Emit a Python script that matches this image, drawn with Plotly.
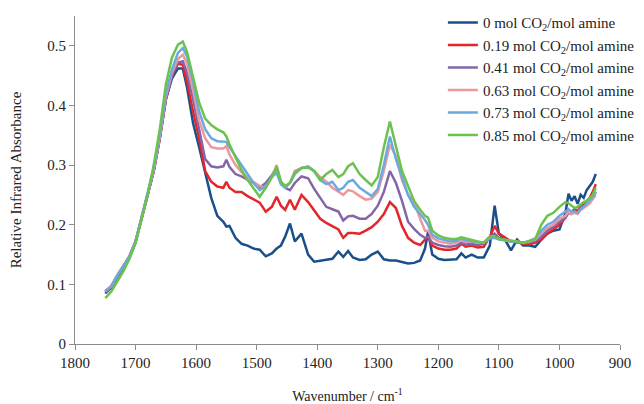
import plotly.graph_objects as go

wavenumber = [1750, 1740, 1730, 1720, 1710, 1700, 1690, 1680, 1670, 1660, 1650, 1640, 1630, 1622, 1615,
              1605, 1595, 1585, 1575, 1565, 1555, 1550, 1545, 1535, 1525, 1515, 1505, 1495, 1485, 1475,
              1467, 1460, 1453, 1445, 1437, 1426, 1415, 1405, 1395, 1385, 1375, 1365, 1357, 1349, 1341,
              1330, 1320, 1310, 1300, 1290, 1280, 1270, 1260, 1250, 1240, 1230, 1222, 1217, 1210, 1200,
              1190, 1180, 1170, 1162, 1155, 1145, 1135, 1125, 1115, 1107, 1100, 1090, 1080, 1070, 1060,
              1050, 1040, 1030, 1020, 1010, 1000, 990, 985, 980, 975, 970, 965, 960, 955, 950, 945, 940]

abs_0 = [0.085, 0.095, 0.112, 0.128, 0.145, 0.170, 0.212, 0.250, 0.290, 0.345, 0.410, 0.445, 0.462, 0.462, 0.430,
         0.370, 0.330, 0.290, 0.245, 0.215, 0.205, 0.197, 0.198, 0.178, 0.168, 0.165, 0.160, 0.158, 0.147, 0.152,
         0.160, 0.165, 0.180, 0.202, 0.172, 0.185, 0.150, 0.138, 0.140, 0.141, 0.143, 0.155, 0.146, 0.156, 0.145,
         0.141, 0.142, 0.150, 0.155, 0.142, 0.140, 0.140, 0.137, 0.135, 0.136, 0.140, 0.160, 0.188, 0.150, 0.143,
         0.141, 0.141, 0.142, 0.152, 0.145, 0.150, 0.145, 0.145, 0.165, 0.232, 0.185, 0.175, 0.157, 0.175, 0.165,
         0.165, 0.163, 0.175, 0.185, 0.190, 0.192, 0.220, 0.252, 0.240, 0.248, 0.235, 0.250, 0.245, 0.258, 0.265, 0.272, 0.285]

abs_019 = [0.088, 0.097, 0.115, 0.130, 0.147, 0.172, 0.213, 0.250, 0.290, 0.345, 0.410, 0.450, 0.470, 0.468, 0.440,
           0.390, 0.345, 0.290, 0.272, 0.264, 0.262, 0.272, 0.262, 0.255, 0.255, 0.248, 0.242, 0.237, 0.222, 0.230,
           0.247, 0.232, 0.225, 0.242, 0.225, 0.250, 0.238, 0.225, 0.210, 0.203, 0.198, 0.192, 0.178, 0.186, 0.186,
           0.185, 0.190, 0.196, 0.205, 0.218, 0.238, 0.228, 0.198, 0.178, 0.170, 0.166, 0.175, 0.180, 0.165, 0.160,
           0.158, 0.158, 0.160, 0.168, 0.163, 0.165, 0.162, 0.163, 0.180, 0.198, 0.185, 0.178, 0.172, 0.170, 0.168,
           0.167, 0.170, 0.175, 0.185, 0.192, 0.200, 0.212, 0.225, 0.220, 0.227, 0.222, 0.232, 0.235, 0.240, 0.245, 0.255, 0.268]

abs_041 = [0.088, 0.097, 0.115, 0.130, 0.147, 0.172, 0.213, 0.250, 0.290, 0.345, 0.410, 0.450, 0.472, 0.474, 0.455,
           0.410, 0.360, 0.310, 0.298, 0.296, 0.298, 0.309, 0.297, 0.285, 0.281, 0.276, 0.270, 0.262, 0.270, 0.283,
           0.295, 0.272, 0.262, 0.258, 0.270, 0.281, 0.278, 0.260, 0.245, 0.230, 0.226, 0.222, 0.207, 0.214, 0.215,
           0.210, 0.210, 0.218, 0.232, 0.255, 0.290, 0.270, 0.240, 0.205, 0.193, 0.183, 0.178, 0.180, 0.170, 0.166,
           0.164, 0.163, 0.165, 0.170, 0.167, 0.168, 0.166, 0.168, 0.180, 0.185, 0.178, 0.175, 0.172, 0.172, 0.170,
           0.170, 0.173, 0.180, 0.190, 0.197, 0.205, 0.212, 0.220, 0.218, 0.222, 0.220, 0.228, 0.230, 0.234, 0.238, 0.245, 0.255]

abs_063 = [0.088, 0.097, 0.115, 0.130, 0.147, 0.172, 0.213, 0.250, 0.292, 0.348, 0.415, 0.455, 0.478, 0.485, 0.470,
           0.425, 0.375, 0.345, 0.330, 0.328, 0.328, 0.332, 0.318, 0.300, 0.288, 0.278, 0.272, 0.265, 0.262, 0.280,
           0.300, 0.272, 0.265, 0.270, 0.290, 0.295, 0.297, 0.290, 0.280, 0.272, 0.262, 0.255, 0.250, 0.258, 0.256,
           0.248, 0.242, 0.244, 0.255, 0.290, 0.334, 0.315, 0.275, 0.250, 0.238, 0.210, 0.190, 0.190, 0.178, 0.172,
           0.170, 0.168, 0.170, 0.174, 0.171, 0.172, 0.170, 0.170, 0.180, 0.180, 0.176, 0.174, 0.172, 0.172, 0.170,
           0.172, 0.175, 0.185, 0.195, 0.200, 0.210, 0.215, 0.222, 0.218, 0.220, 0.218, 0.225, 0.228, 0.232, 0.236, 0.243, 0.250]

abs_073 = [0.088, 0.097, 0.115, 0.130, 0.147, 0.172, 0.213, 0.252, 0.295, 0.352, 0.420, 0.460, 0.488, 0.496, 0.482,
           0.440, 0.390, 0.360, 0.345, 0.340, 0.339, 0.339, 0.330, 0.315, 0.300, 0.285, 0.270, 0.258, 0.265, 0.280,
           0.287, 0.268, 0.262, 0.270, 0.285, 0.295, 0.298, 0.290, 0.275, 0.268, 0.272, 0.258, 0.262, 0.272, 0.275,
           0.262, 0.255, 0.248, 0.260, 0.300, 0.348, 0.310, 0.280, 0.250, 0.230, 0.218, 0.208, 0.200, 0.183, 0.177,
           0.174, 0.172, 0.173, 0.177, 0.174, 0.173, 0.171, 0.170, 0.177, 0.178, 0.175, 0.173, 0.172, 0.171, 0.170,
           0.173, 0.177, 0.190, 0.200, 0.205, 0.215, 0.222, 0.226, 0.222, 0.222, 0.220, 0.226, 0.230, 0.235, 0.240, 0.246, 0.255]

abs_085 = [0.077, 0.088, 0.105, 0.122, 0.143, 0.170, 0.210, 0.250, 0.300, 0.360, 0.435, 0.480, 0.502, 0.507, 0.490,
           0.445, 0.405, 0.378, 0.367, 0.360, 0.355, 0.348, 0.335, 0.313, 0.292, 0.275, 0.262, 0.247, 0.262, 0.280,
           0.297, 0.272, 0.265, 0.270, 0.288, 0.295, 0.296, 0.290, 0.275, 0.285, 0.292, 0.280, 0.285, 0.298, 0.303,
           0.285, 0.275, 0.266, 0.280, 0.330, 0.373, 0.330, 0.290, 0.265, 0.240, 0.225, 0.215, 0.212, 0.190, 0.182,
           0.178, 0.176, 0.176, 0.179, 0.177, 0.174, 0.172, 0.170, 0.180, 0.180, 0.176, 0.175, 0.174, 0.172, 0.169,
           0.172, 0.176, 0.200, 0.215, 0.220, 0.230, 0.238, 0.236, 0.232, 0.228, 0.230, 0.234, 0.238, 0.240, 0.245, 0.250, 0.262]

series_names = ["0 mol CO<sub>2</sub>/mol amine", "0.19 mol CO<sub>2</sub>/mol amine",
                "0.41 mol CO<sub>2</sub>/mol amine", "0.63 mol CO<sub>2</sub>/mol amine",
                "0.73 mol CO<sub>2</sub>/mol amine", "0.85 mol CO<sub>2</sub>/mol amine"]
series_values = [abs_0, abs_019, abs_041, abs_063, abs_073, abs_085]
colors = ["#1B4F8A", "#E3262B", "#8466A8", "#EE979C", "#6AAAE0", "#6CC24E"]

x_ticks = [1800, 1700, 1600, 1500, 1400, 1300, 1200, 1100, 1000, 900]
y_ticks = [0, 0.1, 0.2, 0.3, 0.4, 0.5]

FONT = "Liberation Serif, Times New Roman, serif"

fig = go.Figure()
for i, (name, vals, col) in enumerate(zip(series_names, series_values, colors)):
    fig.add_trace(go.Scatter(x=wavenumber, y=vals, mode="lines", name=name,
                             legendgroup=f"g{i}",
                             line=dict(color=col, width=2.5)))

fig.update_layout(
    width=636, height=396,
    margin=dict(l=67, r=24, t=8, b=60, autoexpand=False),
    paper_bgcolor="white", plot_bgcolor="white",
    font=dict(family=FONT, size=14, color="#222222"),
    showlegend=True,
    legend=dict(x=0.675, y=1.03, xanchor="left", yanchor="top",
                bgcolor="rgba(0,0,0,0)", tracegroupgap=0,
                font=dict(family=FONT, size=15, color="#222222")),
    xaxis=dict(range=[1800, 900], tickvals=x_ticks, ticktext=[str(t) for t in x_ticks],
               showgrid=False, zeroline=False, showline=True, linecolor="#8c8c8c", linewidth=1,
               ticks="outside", ticklen=5, tickcolor="#8c8c8c", automargin=False,
               title=dict(text="Wavenumber / cm<sup>-1</sup>", font=dict(family=FONT, size=14), standoff=21),
               tickfont=dict(family=FONT, size=15)),
    yaxis=dict(range=[0, 0.55], tickvals=y_ticks, ticktext=["0", "0.1", "0.2", "0.3", "0.4", "0.5"],
               showgrid=False, zeroline=False, showline=True, linecolor="#8c8c8c", linewidth=1,
               ticks="outside", ticklen=5, tickcolor="#8c8c8c", automargin=False,
               title=dict(text="Relative Infrared Absorbance", font=dict(family=FONT, size=15), standoff=22),
               tickfont=dict(family=FONT, size=15)),
)

fig.write_html("out.html")
